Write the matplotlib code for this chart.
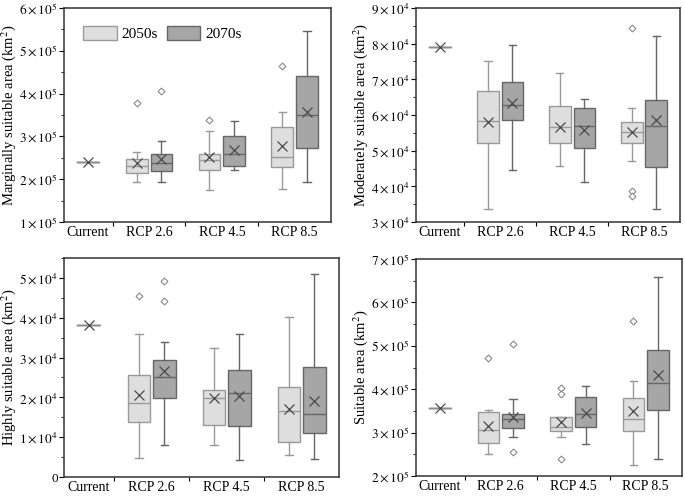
#!/usr/bin/env python3
import math
import matplotlib
matplotlib.use("Agg")
import matplotlib.pyplot as plt
from matplotlib.patches import Patch
from matplotlib.ticker import FuncFormatter, AutoMinorLocator


# ---------------- data ----------------
# rows per RCP: [whislo, q1, median, q3, whishi, mean]
RCPS = ["RCP 2.6", "RCP 4.5", "RCP 8.5"]

# marginally suitable area, x 1e5 km2
marg_current = 2.40
marg_2050 = [[1.94, 2.145, 2.316, 2.47, 2.63, 2.38],
             [1.755, 2.22, 2.44, 2.59, 3.13, 2.51],
             [1.78, 2.285, 2.52, 3.21, 3.56, 2.77]]
marg_2050_fl = [[3.79], [3.38], [4.64]]
marg_2070 = [[1.94, 2.19, 2.38, 2.59, 2.885, 2.47],
             [2.215, 2.31, 2.60, 3.01, 3.35, 2.68],
             [1.935, 2.73, 3.49, 4.40, 5.47, 3.56]]
marg_2070_fl = [[4.05], [], []]

# moderately suitable area, x 1e4 km2
mod_current = 7.92
mod_2050 = [[3.36, 5.21, 5.82, 6.68, 7.50, 5.80],
            [4.58, 5.21, 5.65, 6.24, 7.19, 5.65],
            [4.72, 5.215, 5.51, 5.79, 6.19, 5.51]]
mod_2050_fl = [[], [], [8.45, 3.88, 3.74]]
mod_2070 = [[4.47, 5.85, 6.27, 6.93, 7.97, 6.35],
            [4.12, 5.07, 5.70, 6.19, 6.46, 5.59],
            [3.36, 4.53, 5.70, 6.42, 8.22, 5.85]]
mod_2070_fl = [[], [], []]

# highly suitable area, x 1e4 km2
high_current = 3.815
high_2050 = [[0.467, 1.369, 1.853, 2.554, 3.58, 2.053],
             [0.81, 1.31, 1.98, 2.18, 3.247, 1.995],
             [0.551, 0.885, 1.65, 2.262, 4.03, 1.703]]
high_2050_fl = [[4.55], [], []]
high_2070 = [[0.80, 1.995, 2.504, 2.93, 3.38, 2.654],
             [0.426, 1.285, 2.11, 2.68, 3.60, 2.045],
             [0.459, 1.11, 1.578, 2.771, 5.10, 1.92]]
high_2070_fl = [[4.925, 4.424], [], []]

# suitable area, x 1e5 km2
suit_current = 3.572
suit_2050 = [[2.51, 2.76, 3.06, 3.465, 3.51, 3.16],
             [2.90, 3.035, 3.13, 3.37, 3.37, 3.25],
             [2.26, 3.035, 3.32, 3.79, 4.20, 3.49]]
suit_2050_fl = [[4.71], [4.02, 3.90, 2.39], [5.57]]
suit_2070 = [[2.90, 3.10, 3.31, 3.43, 3.78, 3.37],
             [2.73, 3.14, 3.44, 3.83, 4.07, 3.45],
             [2.40, 3.52, 4.15, 4.90, 6.59, 4.33]]
suit_2070_fl = [[5.04, 2.56], [], []]
# -------------------------------------------------------------

CURRENT_X = 1.16
GROUP_X = [2, 3, 4]
OFFSET = 0.17
WIDTH = 0.3

LIGHT_FACE, LIGHT_EDGE = "#dedede", "#9a9a9a"
DARK_FACE, DARK_EDGE = "#a6a6a6", "#666666"

plt.rcParams["font.family"] = ["Liberation Serif", "DejaVu Serif"]
plt.rcParams["mathtext.fontset"] = "stix"
plt.rcParams["axes.linewidth"] = 1.1


def sci_fmt(v, pos):
    if abs(v) < 1e-9:
        return "0"
    exp = int(math.floor(math.log10(v) + 1e-9))
    mant = v / 10 ** exp
    return rf"${mant:.0f}\times10^{{{exp}}}$"


def make_stats(rows, fliers, scale):
    stats = []
    for r, fl in zip(rows, fliers):
        stats.append(dict(whislo=r[0] * scale, q1=r[1] * scale, med=r[2] * scale,
                          q3=r[3] * scale, whishi=r[4] * scale, mean=r[5] * scale,
                          fliers=[f * scale for f in fl]))
    return stats


def draw_boxes(ax, stats, positions, face, edge):
    ax.bxp(stats, positions=positions, widths=WIDTH, capwidths=0.1,
           patch_artist=True, showmeans=True, manage_ticks=False,
           boxprops=dict(facecolor=face, edgecolor=edge, linewidth=1.0),
           medianprops=dict(color=edge, linewidth=1.0),
           whiskerprops=dict(color=edge, linewidth=1.0),
           capprops=dict(color=edge, linewidth=1.0),
           meanprops=dict(marker="x", markeredgecolor="#4a4a4a", markersize=7.5,
                          markeredgewidth=0.9),
           flierprops=dict(marker="D", markerfacecolor="white",
                           markeredgecolor="#8a8a8a", markersize=3.5,
                           markeredgewidth=0.8))


def plot_panel(ax, current, d2050, fl2050, d2070, fl2070, scale, ylim, yticks, ylabel):
    cur = current * scale
    cur_stats = [dict(whislo=cur, q1=cur, med=cur, q3=cur, whishi=cur, mean=cur, fliers=[])]
    ax.bxp(cur_stats, positions=[CURRENT_X], widths=WIDTH, showcaps=False,
           showmeans=True, manage_ticks=False,
           boxprops=dict(color="#8a8a8a", linewidth=1.0),
           medianprops=dict(color="#8a8a8a", linewidth=1.0),
           whiskerprops=dict(color="#8a8a8a"),
           meanprops=dict(marker="x", markeredgecolor="#4a4a4a", markersize=7.5,
                          markeredgewidth=0.9))

    draw_boxes(ax, make_stats(d2050, fl2050, scale),
               [g - OFFSET for g in GROUP_X], LIGHT_FACE, LIGHT_EDGE)
    draw_boxes(ax, make_stats(d2070, fl2070, scale),
               [g + OFFSET for g in GROUP_X], DARK_FACE, DARK_EDGE)

    ax.set_xlim(0.83, 4.5)
    ax.set_ylim(ylim[0] * scale, ylim[1] * scale)
    ax.set_yticks([t * scale for t in yticks])
    ax.yaxis.set_major_formatter(FuncFormatter(sci_fmt))
    ax.yaxis.set_minor_locator(AutoMinorLocator(2))

    # separators as ticks, labels as minor ticks without marks
    ax.set_xticks([1.5, 2.5, 3.5])
    ax.set_xticklabels([])
    ax.set_xticks([CURRENT_X] + GROUP_X, minor=True)
    ax.set_xticklabels(["Current"] + RCPS, minor=True)
    ax.tick_params(axis="x", which="minor", length=0, labelsize=10, pad=3)
    ax.tick_params(axis="x", which="major", length=3, direction="out")
    ax.tick_params(axis="y", which="major", length=3.5, labelsize=9.5, pad=1)
    ax.tick_params(axis="y", which="minor", length=2)

    for s in ax.spines.values():
        s.set_color("#333333")

    ax.set_ylabel(ylabel, fontsize=10.5, labelpad=1)


def main():
    fig = plt.figure(figsize=(6.85, 4.96), dpi=100)

    ax1 = fig.add_axes([0.0934, 0.5524, 0.3898, 0.4315])
    ax2 = fig.add_axes([0.6073, 0.5524, 0.3854, 0.4315])
    ax3 = fig.add_axes([0.0934, 0.0383, 0.4015, 0.4415])
    ax4 = fig.add_axes([0.6073, 0.0403, 0.3883, 0.4375])

    plot_panel(ax1, marg_current, marg_2050, marg_2050_fl, marg_2070, marg_2070_fl,
               1e5, (1, 6), [1, 2, 3, 4, 5, 6], "Marginally suitable area (km$^2$)")
    plot_panel(ax2, mod_current, mod_2050, mod_2050_fl, mod_2070, mod_2070_fl,
               1e4, (3, 9), [3, 4, 5, 6, 7, 8, 9], "Moderately suitable area (km$^2$)")
    plot_panel(ax3, high_current, high_2050, high_2050_fl, high_2070, high_2070_fl,
               1e4, (0, 5.5), [0, 1, 2, 3, 4, 5], "Highly suitable area (km$^2$)")
    plot_panel(ax4, suit_current, suit_2050, suit_2050_fl, suit_2070, suit_2070_fl,
               1e5, (2, 7), [2, 3, 4, 5, 6, 7], "Suitable area (km$^2$)")

    handles = [Patch(facecolor=LIGHT_FACE, edgecolor=LIGHT_EDGE, label="2050s"),
               Patch(facecolor=DARK_FACE, edgecolor=DARK_EDGE, label="2070s")]
    ax1.legend(handles=handles, loc="upper left", ncol=2, frameon=False,
               fontsize=11, bbox_to_anchor=(0.02, 0.98), handlelength=2.2,
               handleheight=1.0, handletextpad=0.3, columnspacing=0.6)

    fig.savefig("out.png", dpi=100)
    plt.close()


if __name__ == "__main__":
    main()
